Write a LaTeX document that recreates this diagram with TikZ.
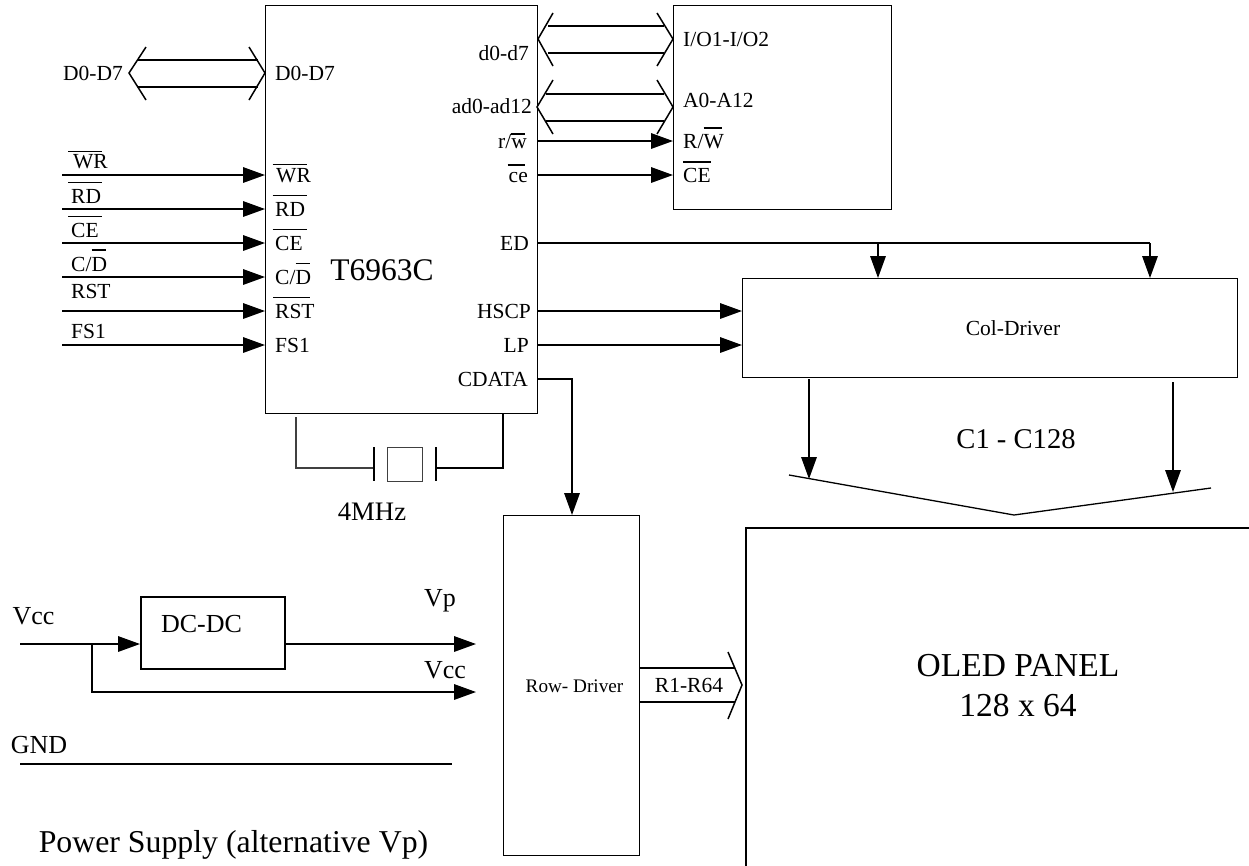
\documentclass[tikz,border=0pt]{standalone}
\usepackage{fontspec}
\setmainfont{Liberation Serif}
\usetikzlibrary{arrows.meta}
% overbar: kern, width, height above baseline, text
\newcommand{\olx}[4]{\rlap{\kern#1\rule[#3]{#2}{1.7pt}}#4}
\tikzset{
  x=1pt,y=-1pt,
  block/.style={draw,line width=1.2pt,inner sep=0pt,anchor=north west},
  wire/.style={line width=1.6pt},
  thinwire/.style={line width=1.2pt},
  sig/.style={wire,-{Triangle[length=22pt,width=15.5pt]}},
  chev/.style={line width=1.5pt,line join=miter},
  txt/.style={inner sep=0pt,anchor=base},
  lab/.style={inner sep=0pt,font=\fontsize{21.5}{24}\selectfont},
  labl/.style={lab,anchor=base west},
  labr/.style={lab,anchor=base east},
  bigtxt/.style={txt,font=\fontsize{26}{30}\selectfont},
}
\begin{document}
\begin{tikzpicture}
\useasboundingbox (0,0) rectangle (1249,865);
% blocks
\node[block,minimum width=272pt,minimum height=408pt] (ctl) at (265,5) {};
\node[block,minimum width=218pt,minimum height=204pt] (mem) at (673,5) {};
\node[block,minimum width=495pt,minimum height=99pt] (col) at (742,278) {};
\node[block,minimum width=136pt,minimum height=340pt] (row) at (503,515) {};
\node[block,draw=none,minimum width=502pt,minimum height=337pt] (panel) at (746,528) {};
\draw[line width=1.2pt] (panel.south west) -- (panel.north west) -- (panel.north east) -- (panel.south east);
\node[block,line width=1.5pt,minimum width=144pt,minimum height=72pt] (dc) at (140,596) {};
\node[txt,font=\fontsize{21.5}{24}\selectfont] (colt) at (1013,335) {Col-Driver};
\node[txt,font=\fontsize{19.2}{22}\selectfont] (rowt) at (574.5,692) {Row- Driver};
\node[bigtxt] (dct) at (201.5,632) {DC-DC};
\node[txt,font=\fontsize{33.5}{36}\selectfont] (panelt) at (1018,676) {OLED PANEL};
\node[txt,font=\fontsize{33.5}{36}\selectfont] (panelu) at (1018,716) {128 x 64};
\node[txt,font=\fontsize{31.5}{34}\selectfont] (chip) at (382,280) {T6963C};
% left pins
\foreach \n/\y in {a/175,b/209,c/243,d/277,e/311,f/345}{
  \coordinate (in\n) at (62,\y);
  \coordinate (pin\n) at (265,\y);
  \draw[sig] (in\n) -- (pin\n);
}
\node[labl] (la) at (73,168) {\olx{-5pt}{34pt}{15.6pt}{WR}};
\node[labl] (lb) at (71,203) {\olx{-3pt}{34pt}{19.6pt}{RD}};
\node[labl] (lc) at (71,237) {\olx{-3pt}{34pt}{19.6pt}{CE}};
\node[labl] (ld) at (71,271) {C/\olx{0pt}{14pt}{20.2pt}{D}};
\node[labl] (le) at (71,298) {\olx{-2pt}{41pt}{20.2pt}{RST}};
\node[labl] (lf) at (71,338) {FS1};
\node[labl] (pa) at (276,182) {\olx{-3.5pt}{34pt}{16.6pt}{WR}};
\node[labl] (pb) at (275,216) {\olx{-2.5pt}{34pt}{19.6pt}{RD}};
\node[labl] (pc) at (275,250) {\olx{-2.5pt}{34pt}{19.6pt}{CE}};
\node[labl] (pd) at (275,284) {C/\olx{0pt}{14pt}{19.6pt}{D}};
\node[labl] (pe) at (275,318) {\olx{-2pt}{37pt}{19.6pt}{RST}};
\node[labl] (pf) at (275,352) {FS1};
% D0-D7 bus
\node[labl] (dl) at (63,80) {D0-D7};
\node[labl] (dp) at (275,80) {D0-D7};
\coordinate (dbl) at (138,60); \coordinate (dbr) at (258,60);
\coordinate (dcl) at (138,87); \coordinate (dcr) at (258,87);
\draw[wire] (dbl) -- (dbr);
\draw[wire] (dcl) -- (dcr);
\draw[chev] (146,47) -- (129,73) -- (146,100);
\draw[chev] (249,47) -- (265,73) -- (249,100);
% right labels
\node[labr] (r1) at (529,60) {d0-d7};
\node[labr] (r2) at (532,113) {ad0-ad12};
\node[labr] (r3) at (527,148) {r/\olx{0pt}{14pt}{13.2pt}{w}};
\node[labr] (r4) at (528,182) {\olx{-1pt}{17pt}{16.2pt}{ce}};
\node[labr] (r5) at (529,250) {ED};
\node[labr] (r6) at (531,318) {HSCP};
\node[labr] (r7) at (529,352) {LP};
\node[labr] (r8) at (528,386) {CDATA};
\node[labl] (m1) at (683,46) {I/O1-I/O2};
\node[labl] (m2) at (683,107) {A0-A12};
\node[labl] (m3) at (683,148) {R/\olx{0pt}{18pt}{19.2pt}{W}};
\node[labl] (m4) at (683,182) {\olx{0pt}{28pt}{19.2pt}{CE}};
\coordinate (ba) at (548,26); \coordinate (bb) at (664,26);
\coordinate (bc) at (548,53); \coordinate (bd) at (664,53);
\draw[wire] (ba) -- (bb);
\draw[wire] (bc) -- (bd);
\draw[chev] (553,13) -- (538,39) -- (553,66);
\draw[chev] (657,13) -- (673,39) -- (657,66);
\coordinate (ca) at (546,94); \coordinate (cb) at (664,94);
\coordinate (cc) at (546,121); \coordinate (cd) at (664,121);
\draw[wire] (ca) -- (cb);
\draw[wire] (cc) -- (cd);
\draw[chev] (553,80) -- (537,107) -- (553,134);
\draw[chev] (657,80) -- (673,107) -- (657,134);
% right signals
\coordinate (rw0) at (537,141); \coordinate (rw1) at (673,141);
\coordinate (ce0) at (537,175); \coordinate (ce1) at (673,175);
\draw[sig] (rw0) -- (rw1);
\draw[sig] (ce0) -- (ce1);
\coordinate (ed0) at (537,243); \coordinate (edm) at (878,243);
\coordinate (ede) at (1150,243);
\coordinate (cola) at (878,278); \coordinate (colb) at (1150,278);
\draw[wire] (ed0) -- (ede);
\draw[sig] (edm) -- (cola);
\draw[sig] (ede) -- (colb);
\coordinate (hs0) at (537,311); \coordinate (hs1) at (742,311);
\coordinate (lp0) at (537,345); \coordinate (lp1) at (742,345);
\draw[sig] (hs0) -- (hs1);
\draw[sig] (lp0) -- (lp1);
\coordinate (cd0) at (537,379); \coordinate (cd1) at (572,515);
\draw[sig,line join=miter] (cd0) -| (cd1);
% crystal
\coordinate (xa) at (296,417); \coordinate (xb) at (296,468); \coordinate (xc) at (374,468);
\coordinate (xd) at (436,468); \coordinate (xe) at (503,468); \coordinate (xf) at (503,413);
\draw[thinwire,black!75] (xa) -- (xb) -- (xc);
\draw[wire,line join=miter] (xd) -- (xe) -- (xf);
\draw[thinwire] (374,447) -- (374,481);
\draw[thinwire] (436,447) -- (436,481);
\node[block,draw=black!75,minimum width=35pt,minimum height=34pt] (xtal) at (387,447) {};
\node[txt,font=\fontsize{26.7}{28}\selectfont] (mhz) at (372,520) {4MHz};
% col outputs
\coordinate (ca0) at (809,379); \coordinate (ca1) at (809,479);
\coordinate (cb0) at (1173,382); \coordinate (cb1) at (1173,492);
\draw[sig] (ca0) -- (ca1);
\draw[sig] (cb0) -- (cb1);
\draw[line width=1.3pt] (789,475) -- (1014,515) -- (1211,488);
\node[txt,font=\fontsize{28.6}{30}\selectfont] (clab) at (1016,448) {C1 - C128};
% row bus
\node[txt,font=\fontsize{21.5}{24}\selectfont] (rlab) at (689,692) {R1-R64};
\coordinate (rb0) at (639,668); \coordinate (rb1) at (735,668);
\coordinate (rc0) at (639,702); \coordinate (rc1) at (735,702);
\draw[wire] (rb0) -- (rb1);
\draw[wire] (rc0) -- (rc1);
\draw[chev] (728,652) -- (742,685) -- (728,719);
% power
\node[bigtxt] (vcc) at (33.5,624) {Vcc};
\node[bigtxt] (vp) at (440,606) {Vp};
\node[bigtxt] (vcc2) at (445,678) {Vcc};
\node[bigtxt] (gnd) at (39,753) {GND};
\node[txt,font=\fontsize{31.8}{34}\selectfont] (ps) at (233.5,852) {Power Supply (alternative Vp)};
\coordinate (p0) at (20,644); \coordinate (pj) at (92,644); \coordinate (pk) at (92,692);
\coordinate (pfin) at (476,692); \coordinate (vpe) at (476,644);
\coordinate (dci) at (140,644); \coordinate (dco) at (284,644);
\coordinate (g0) at (20,764); \coordinate (g1) at (452,764);
\draw[sig] (p0) -- (dci);
\draw[sig] (dco) -- (vpe);
\draw[sig,line join=miter] (pj) -- (pk) -- (pfin);
\draw[wire] (g0) -- (g1);
\end{tikzpicture}
\end{document}
